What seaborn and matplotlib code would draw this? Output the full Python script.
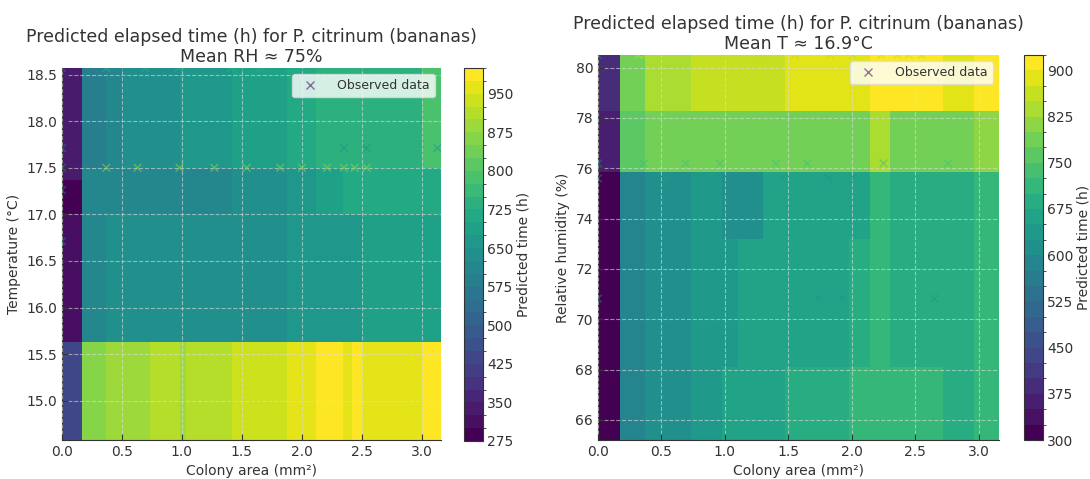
import numpy as np
import matplotlib
matplotlib.use("Agg")
import matplotlib.pyplot as plt
from matplotlib.colors import BoundaryNorm
from matplotlib.lines import Line2D
import seaborn as sns

# ---------------- data ----------------
# Left panel: colony area x temperature (mean RH ~ 75 %)
area_edges_T = [0.0, 0.17, 0.37, 0.52, 0.73, 0.98, 1.03, 1.42, 1.88, 2.12, 2.34, 2.42, 2.5, 3.0, 3.16]
temp_edges = [14.58, 15.63, 17.0, 17.37, 17.5, 18.57]
time_T_band1 = [430, 855, 885, 885, 915, 890, 915, 940, 965, 985, 965, 985, 965, 990]   # 14.58-15.63
time_T_band2 = [315, 600, 630, 630, 635, 635, 635, 640, 660, 670, 660, 665, 690, 690]   # 15.63-17.0
time_T_band3 = [285, 600, 605, 610, 610, 610, 615, 635, 665, 690, 700, 700, 705, 715]   # 17.0-17.37
time_T_band4 = [340, 600, 605, 610, 610, 610, 615, 635, 665, 690, 700, 700, 705, 715]   # 17.37-17.5
time_T_band5 = [345, 595, 620, 645, 645, 650, 655, 685, 705, 730, 735, 740, 740, 775]   # 17.5-18.57
levels_T = list(range(275, 1001, 25))

# Right panel: colony area x relative humidity (mean T ~ 16.9 C)
area_edges_RH = [0.0, 0.17, 0.37, 0.73, 0.98, 1.1, 1.3, 1.47, 1.57, 1.98, 2.14, 2.3, 2.5, 2.72, 2.96, 3.16]
rh_edges = [65.2, 68.1, 73.2, 75.85, 78.26, 80.5]
time_RH_band1 = [310, 595, 615, 640, 650, 665, 670, 675, 690, 700, 712, 700, 700, 695, 712]  # 65.2-68.1
time_RH_band2 = [310, 590, 610, 640, 630, 665, 665, 665, 665, 675, 700, 690, 690, 690, 700]  # 68.1-73.2
time_RH_band3 = [310, 585, 610, 625, 615, 620, 665, 665, 665, 670, 700, 680, 690, 690, 700]  # 73.2-75.85
time_RH_band4 = [360, 750, 775, 790, 775, 790, 790, 790, 790, 790, 835, 795, 795, 775, 800]  # 75.85-78.26
time_RH_band5 = [375, 790, 830, 855, 855, 855, 870, 885, 875, 885, 920, 920, 915, 885, 915]  # 78.26-80.5
levels_RH = list(range(300, 926, 25))

# Observed data
obs_area_T = [0.0, 0.0, 0.0, 0.0, 0.0,
              0.37, 0.63, 0.98, 1.27, 1.54, 1.82, 2.0, 2.21, 2.35, 2.44, 2.54,
              2.35, 2.54, 3.13,
              0.37, 0.69, 0.97, 1.41, 1.66, 2.27]
obs_temp = [18.57, 17.71, 17.5, 17.26, 16.71,
            17.5, 17.5, 17.5, 17.5, 17.5, 17.5, 17.5, 17.5, 17.5, 17.5, 17.5,
            17.71, 17.71, 17.71,
            18.57, 18.57, 18.57, 18.57, 18.57, 18.57]
obs_time_T = [560, 560, 560, 560, 560,
              880, 880, 880, 880, 880, 880, 880, 880, 880, 880, 880,
              640, 640, 640,
              740, 740, 740, 740, 740, 740]

obs_area_RH = [0.0, 0.0, 0.0, 0.0,
               0.32, 0.37, 0.63, 0.99, 1.28, 1.55, 1.83, 2.01, 2.23, 2.36, 2.45, 2.55,
               0.36, 0.69, 0.96, 1.40, 1.65, 2.25, 2.76,
               0.54, 1.45, 1.82, 2.01,
               1.74, 1.93, 2.65]
obs_rh = [80.5, 76.19, 75.6, 70.82,
          80.5, 80.5, 80.5, 80.5, 80.5, 80.5, 80.5, 80.5, 80.5, 80.5, 80.5, 80.5,
          76.19, 76.19, 76.19, 76.19, 76.19, 76.19, 76.19,
          75.59, 75.59, 75.59, 75.59,
          70.82, 70.82, 70.82]
obs_time_RH = [560, 560, 560, 560,
               860, 860, 860, 860, 860, 860, 860, 860, 860, 860, 860, 860,
               740, 740, 740, 740, 740, 740, 740,
               640, 640, 640, 640,
               640, 640, 640]

title_main = "Predicted elapsed time (h) for P. citrinum (bananas)"
title_T = "Mean RH \u2248 75%"
title_RH = "Mean T \u2248 16.9\u00b0C"

# ---------------- style ----------------
sns.set_style("ticks")
txt = "#333333"
plt.rcParams.update({
    "font.family": ["DejaVu Sans"],
    "text.color": txt,
    "axes.labelcolor": txt,
    "xtick.color": txt,
    "ytick.color": txt,
    "axes.edgecolor": txt,
    "font.size": 10,
})

fig = plt.figure(figsize=(10.9, 4.79), dpi=100)
W, H = 1090, 479
ax1 = fig.add_axes([62 / W, 39 / H, 379 / W, 372 / H])
cax1 = fig.add_axes([464 / W, 38 / H, 19 / W, 373 / H])
ax2 = fig.add_axes([598 / W, 39 / H, 401 / W, 385 / H])
cax2 = fig.add_axes([1024 / W, 39 / H, 19 / W, 385 / H])


def panel(ax, cax, xe, ye, bands, levels, ox, oy, ot, ylabel, sub):
    Z = np.array(bands, dtype=float)
    norm = BoundaryNorm(levels, 256)
    mesh = ax.pcolormesh(xe, ye, Z, cmap="viridis", norm=norm, shading="flat")
    sns.scatterplot(x=ox, y=oy, hue=ot, palette="viridis", hue_norm=(levels[0], levels[-1]),
                    marker="x", s=30, linewidth=1.0, alpha=0.55, legend=False, ax=ax,
                    clip_on=True, zorder=3)
    ax.set_xlim(xe[0], xe[-1])
    ax.set_ylim(ye[0], ye[-1])
    ax.set_axisbelow(False)
    ax.grid(True, linestyle="--", color="#dddddd", alpha=0.6, linewidth=0.8)
    for s in ("top", "right"):
        ax.spines[s].set_visible(False)
    ax.tick_params(direction="in", length=4, labelsize=10)
    ax.set_xlabel("Colony area (mm\u00b2)", fontsize=10)
    ax.set_ylabel(ylabel, fontsize=10)
    ax.set_title(title_main + "\n" + sub, fontsize=12.5, color=txt, pad=4)
    handle = Line2D([], [], linestyle="none", marker="x", color="#440154", alpha=0.55,
                    markersize=6, markeredgewidth=1.0)
    ax.legend([handle], ["Observed data"], loc="upper right", fontsize=9,
              frameon=True, framealpha=0.8, facecolor="white", edgecolor="#dddddd",
              handletextpad=1.2)
    cb = fig.colorbar(mesh, cax=cax)
    cb.set_label("Predicted time (h)", fontsize=10, labelpad=2)
    cb.ax.tick_params(direction="in", length=4, labelsize=10, pad=3)
    cb.outline.set_edgecolor(txt)
    return mesh


panel(ax1, cax1, area_edges_T, temp_edges,
      [time_T_band1, time_T_band2, time_T_band3, time_T_band4, time_T_band5],
      levels_T, obs_area_T, obs_temp, obs_time_T, "Temperature (\u00b0C)", title_T)
panel(ax2, cax2, area_edges_RH, rh_edges,
      [time_RH_band1, time_RH_band2, time_RH_band3, time_RH_band4, time_RH_band5],
      levels_RH, obs_area_RH, obs_rh, obs_time_RH, "Relative humidity (%)", title_RH)

fig.savefig("out.png", dpi=100)
